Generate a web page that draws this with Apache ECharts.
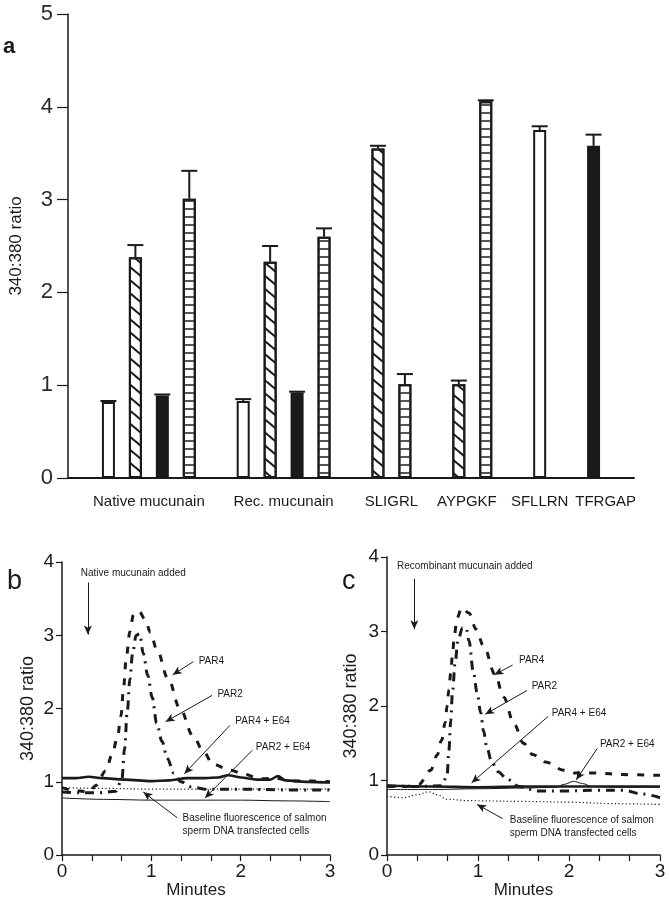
<!DOCTYPE html>
<html>
<head>
<meta charset="utf-8">
<script src="https://cdn.jsdelivr.net/npm/echarts@6/dist/echarts.min.js"></script>
<style>
  html, body { margin: 0; padding: 0; background: #ffffff; }
  #chart { width: 669px; height: 900px; }
</style>
</head>
<body>
<div id="chart"></div>
<script>
// ---- panel a: bar chart ----
const groupNames = ['Native mucunain', 'Rec. mucunain', 'SLIGRL', 'AYPGKF', 'SFLLRN', 'TFRGAP'];
const groupFills = [['open', 'hatch', 'solid', 'lines'], ['open', 'hatch', 'solid', 'lines'], ['hatch', 'lines'], ['hatch', 'lines'], ['open'], ['solid']];
const groupMeans = [[0.82, 2.38, 0.89, 3.01], [0.83, 2.33, 0.92, 2.60], [3.55, 1.01], [1.01, 4.06], [3.75], [3.58]];
const groupErrors = [[0.01, 0.13, 0.01, 0.30], [0.02, 0.17, 0.01, 0.09], [0.03, 0.11], [0.04, 0.01], [0.04], [0.12]];

// ---- panels b and c: time courses (minutes, 340:380 ratio) ----
const minuteLabels = [0, 1, 2, 3];

const bPar4 = [[0, 0.92], [0.15, 0.88], [0.3, 0.86], [0.38, 0.95], [0.49, 1.15], [0.56, 1.37], [0.62, 1.6], [0.66, 1.9], [0.69, 2.3], [0.72, 2.7], [0.76, 3.05], [0.8, 3.28], [0.86, 3.33], [0.93, 3.22], [0.99, 3.04], [1.06, 2.81], [1.19, 2.4], [1.32, 2.0], [1.47, 1.62], [1.58, 1.42], [1.69, 1.24], [1.88, 1.16], [2.05, 1.1], [2.21, 1.04], [2.4, 1.05], [2.55, 1.01], [2.8, 1.01], [3.0, 1.0]];
const bPar2 = [[0, 0.86], [0.2, 0.85], [0.4, 0.85], [0.6, 0.87], [0.67, 1.03], [0.7, 1.45], [0.73, 1.95], [0.76, 2.4], [0.79, 2.75], [0.83, 3.0], [0.87, 3.02], [0.91, 2.75], [0.96, 2.45], [1.01, 2.15], [1.06, 1.8], [1.12, 1.55], [1.18, 1.32], [1.25, 1.12], [1.33, 1.0], [1.45, 0.93], [1.6, 0.9], [2.0, 0.9], [2.5, 0.89], [3.0, 0.89]];
const bPar4E64 = [[0, 1.05], [0.15, 1.05], [0.3, 1.07], [0.45, 1.05], [0.7, 1.03], [1.0, 1.01], [1.2, 1.02], [1.4, 1.05], [1.6, 1.05], [1.75, 1.06], [1.86, 1.09], [2.0, 1.06], [2.18, 1.03], [2.33, 1.03], [2.42, 1.08], [2.5, 1.02], [2.74, 1.0], [3.0, 0.99]];
const bPar2E64 = [[0, 0.78], [0.5, 0.76], [1.0, 0.75], [1.5, 0.75], [2.0, 0.75], [2.5, 0.74], [3.0, 0.73]];
const bBaseline = [[0, 0.92], [0.5, 0.91], [1.0, 0.9], [1.5, 0.9], [2.0, 0.9], [2.5, 0.9], [3.0, 0.9]];

const cPar4 = [[0, 0.92], [0.2, 0.92], [0.35, 0.95], [0.48, 1.14], [0.55, 1.34], [0.6, 1.54], [0.64, 1.78], [0.66, 2.0], [0.68, 2.22], [0.7, 2.44], [0.72, 2.7], [0.74, 2.95], [0.77, 3.18], [0.82, 3.32], [0.9, 3.25], [0.98, 3.03], [1.06, 2.81], [1.19, 2.42], [1.28, 2.12], [1.4, 1.75], [1.5, 1.5], [1.6, 1.35], [1.74, 1.25], [1.94, 1.14], [2.07, 1.1], [2.3, 1.1], [2.6, 1.08], [3.0, 1.07]];
const cPar2 = [[0, 0.93], [0.3, 0.92], [0.6, 0.93], [0.66, 1.06], [0.68, 1.4], [0.7, 1.8], [0.72, 2.2], [0.75, 2.6], [0.78, 2.88], [0.83, 3.05], [0.87, 3.05], [0.9, 2.88], [0.95, 2.45], [0.99, 2.18], [1.03, 1.91], [1.06, 1.67], [1.1, 1.43], [1.15, 1.25], [1.22, 1.12], [1.32, 1.02], [1.45, 0.92], [1.65, 0.86], [1.95, 0.86], [2.3, 0.87], [2.6, 0.87], [2.8, 0.82], [3.0, 0.77]];
const cPar4E64 = [[0, 0.93], [0.5, 0.92], [1.0, 0.91], [1.5, 0.92], [2.0, 0.92], [2.5, 0.92], [3.0, 0.92]];
const cPar2E64 = [[0, 0.88], [0.5, 0.88], [1.0, 0.89], [1.5, 0.9], [1.85, 0.91], [1.95, 0.95], [2.05, 0.99], [2.15, 0.96], [2.25, 0.92], [2.6, 0.91], [3.0, 0.91]];
const cBaseline = [[0, 0.79], [0.18, 0.77], [0.33, 0.81], [0.46, 0.85], [0.55, 0.81], [0.66, 0.75], [0.9, 0.73], [1.5, 0.72], [2.0, 0.71], [2.5, 0.69], [3.0, 0.68]];

// annotations: [text, text anchor, arrow start, arrow end] in data units
const bNotes = [
  ['Native mucunain added', [0.21, 3.85], [0.29, 3.72], [0.29, 3.01]],
  ['PAR4', [1.53, 2.65], [1.47, 2.64], [1.24, 2.46]],
  ['PAR2', [1.74, 2.2], [1.68, 2.18], [1.16, 1.82]],
  ['PAR4 + E64', [1.94, 1.82], [1.88, 1.77], [1.37, 1.11]],
  ['PAR2 + E64', [2.17, 1.47], [2.13, 1.43], [1.6, 0.78]],
  ['Baseline fluorescence of salmon\nsperm DNA transfected cells', [1.35, 0.42], [1.29, 0.51], [0.91, 0.86]]
];
const cNotes = [
  ['Recombinant mucunain added', [0.11, 3.88], [0.3, 3.71], [0.3, 3.03]],
  ['PAR4', [1.45, 2.62], [1.38, 2.55], [1.18, 2.42]],
  ['PAR2', [1.59, 2.26], [1.54, 2.21], [1.08, 1.89]],
  ['PAR4 + E64', [1.81, 1.91], [1.77, 1.86], [0.93, 0.97]],
  ['PAR2 + E64', [2.34, 1.49], [2.31, 1.43], [2.08, 1.01]],
  ['Baseline fluorescence of salmon\nsperm DNA transfected cells', [1.35, 0.38], [1.27, 0.49], [0.99, 0.68]]
];

const INK = '#1a1a1a';
const FONT = '"Liberation Sans", Arial, sans-serif';

// lay the bars out in slots: one empty slot before every group
const bars = [];
const groupCenters = [];
let slot = 1;
groupNames.forEach((name, g) => {
  const start = slot;
  groupFills[g].forEach((fill, k) => {
    bars.push({ x: slot + 0.5, fill: fill, mean: groupMeans[g][k], err: groupErrors[g][k] });
    slot++;
  });
  groupCenters.push((start + slot) / 2);
  slot++;
});
const slotCount = slot;
// the right-hand names are spread a little so they do not run together
const labelNudge = [0, 0, 0, -0.2, 0, 0.45];
const labelPos = groupCenters.map((c, i) => c + labelNudge[i]);

const fillStyles = {
  open: { color: '#ffffff' },
  solid: { color: INK },
  hatch: { color: '#ffffff', decal: { symbol: 'rect', symbolSize: 1, dashArrayX: [1, 0], dashArrayY: [1.1, 7.5], rotation: Math.PI / 4.5, color: INK } },
  lines: { color: '#ffffff', decal: { symbol: 'rect', symbolSize: 1, dashArrayX: [1, 0], dashArrayY: [1.2, 5.6], rotation: 0, color: '#555' } }
};

const chart = echarts.init(document.getElementById('chart'), null, { renderer: 'canvas' });

// group names go on two stacked label axes so neighbouring names are never dropped
function groupLabelAxis(parity, showLine) {
  const values = labelPos.filter((c, i) => i % 2 === parity);
  return {
    gridIndex: 0, type: 'value', min: 0, max: slotCount, position: 'bottom',
    axisLine: { show: showLine, lineStyle: { color: INK, width: 2 } },
    axisTick: { show: false },
    axisLabel: {
      customValues: values, margin: 16, fontSize: 15, color: INK, fontFamily: FONT,
      hideOverlap: false,
      formatter: v => groupNames[labelPos.findIndex(c => Math.abs(c - v) < 1e-6)] || ''
    },
    splitLine: { show: false }
  };
}
function timeXAxis(gridIndex) {
  const thirds = [];
  for (let i = 0; i <= 9; i++) thirds.push(i / 3);
  return {
    gridIndex: gridIndex, type: 'value', min: 0, max: 3,
    axisLine: { show: true, lineStyle: { color: INK, width: 1.5 } },
    axisTick: { show: true, length: 6, customValues: thirds, lineStyle: { color: INK, width: 1.2 } },
    axisLabel: { customValues: minuteLabels, fontSize: 19, margin: 7, color: INK, fontFamily: FONT },
    splitLine: { show: false },
    name: 'Minutes', nameLocation: 'middle', nameGap: 25,
    nameTextStyle: { fontSize: 17, color: INK, fontFamily: FONT }
  };
}
function ratioYAxis(gridIndex, gap) {
  return {
    gridIndex: gridIndex, type: 'value', min: 0, max: 4, interval: 1,
    axisLine: { show: true, lineStyle: { color: INK, width: 1.5 } },
    axisTick: { show: true, length: 6, lineStyle: { color: INK, width: 1.2 } },
    axisLabel: { fontSize: 19, margin: 8, color: INK, fontFamily: FONT },
    splitLine: { show: false },
    name: '340:380 ratio', nameLocation: 'middle', nameGap: gap,
    nameTextStyle: { fontSize: 18, color: INK, fontFamily: FONT }
  };
}
function curve(name, data, idx, lineStyle) {
  return {
    name: name, type: 'line', xAxisIndex: idx, yAxisIndex: idx, data: data,
    symbol: 'none', smooth: 0.35, smoothMonotone: 'x',
    lineStyle: Object.assign({ color: INK }, lineStyle)
  };
}
function arrows(notes) {
  return {
    silent: true, symbol: ['none', 'arrow'], symbolSize: [6, 9],
    label: { show: false },
    lineStyle: { color: INK, width: 1, type: 'solid' },
    data: notes.map(n => [{ coord: n[2] }, { coord: n[3] }])
  };
}

const option = {
  animation: false,
  backgroundColor: '#ffffff',
  grid: [
    { left: 68, top: 14, width: 566, height: 464 },
    { left: 62, top: 562, width: 268, height: 296 },
    { left: 387, top: 557, width: 273, height: 305 }
  ],
  xAxis: [
    groupLabelAxis(0, true),
    timeXAxis(1),
    timeXAxis(2),
    groupLabelAxis(1, false)
  ],
  yAxis: [
    {
      gridIndex: 0, type: 'value', min: 0, max: 5, interval: 1,
      axisLine: { show: true, lineStyle: { color: INK, width: 1.5 } },
      axisTick: { show: true, length: 11, lineStyle: { color: INK, width: 1.2 } },
      axisLabel: { fontSize: 22, margin: 15, color: '#2a2a2a', fontFamily: FONT },
      splitLine: { show: false },
      name: '340:380 ratio', nameLocation: 'middle', nameGap: 43,
      nameTextStyle: { fontSize: 17, color: INK, fontFamily: FONT }
    },
    ratioYAxis(1, 25),
    ratioYAxis(2, 27)
  ],
  series: [
    {
      type: 'bar', xAxisIndex: 0, yAxisIndex: 0, barWidth: 13,
      data: bars.map(b => ({
        value: [b.x, b.mean],
        itemStyle: Object.assign({ borderColor: INK, borderWidth: 2 }, fillStyles[b.fill])
      }))
    },
    {
      type: 'custom', xAxisIndex: 0, yAxisIndex: 0, z: 5,
      data: bars.map(b => [b.x, b.mean, b.mean + b.err]),
      renderItem: function (params, api) {
        const base = api.coord([api.value(0), api.value(1)]);
        const top = api.coord([api.value(0), api.value(2)]);
        const st = { stroke: INK, lineWidth: 2 };
        return {
          type: 'group', children: [
            { type: 'line', shape: { x1: base[0], y1: base[1], x2: top[0], y2: top[1] }, style: st },
            { type: 'line', shape: { x1: top[0] - 8, y1: top[1], x2: top[0] + 8, y2: top[1] }, style: st }
          ]
        };
      }
    },
    curve('PAR2 + E64', bPar2E64, 1, { width: 1 }),
    curve('Baseline', bBaseline, 1, { width: 1.2, type: [1.2, 2.4] }),
    curve('PAR4 + E64', bPar4E64, 1, { width: 2.6 }),
    curve('PAR2', bPar2, 1, { width: 3, type: [9, 6, 2, 6] }),
    Object.assign(curve('PAR4', bPar4, 1, { width: 3, type: [7, 9] }), { markLine: arrows(bNotes) }),
    curve('PAR2 + E64', cPar2E64, 2, { width: 1 }),
    curve('Baseline', cBaseline, 2, { width: 1.2, type: [1.2, 2.4] }),
    curve('PAR4 + E64', cPar4E64, 2, { width: 2.6 }),
    curve('PAR2', cPar2, 2, { width: 3, type: [9, 6, 2, 6] }),
    Object.assign(curve('PAR4', cPar4, 2, { width: 3, type: [7, 9] }), { markLine: arrows(cNotes) })
  ]
};
chart.setOption(option);

// panel letters and annotation text
const graphics = [
  { type: 'text', left: 3, top: 36, style: { text: 'a', fontSize: 22, fontWeight: 'bold', fill: INK, fontFamily: FONT } },
  { type: 'text', left: 7, top: 568, style: { text: 'b', fontSize: 27, fill: INK, fontFamily: FONT } },
  { type: 'text', left: 342, top: 568, style: { text: 'c', fontSize: 27, fill: INK, fontFamily: FONT } }
];
[[bNotes, 1], [cNotes, 2]].forEach(([notes, gi]) => {
  notes.forEach(n => {
    const p = chart.convertToPixel({ gridIndex: gi }, n[1]);
    graphics.push({
      type: 'text', x: p[0], y: p[1],
      style: { text: n[0], fontSize: 10, lineHeight: 13, fill: INK, fontFamily: FONT, verticalAlign: 'middle' }
    });
  });
});
chart.setOption({ graphic: graphics });
</script>
</body>
</html>
